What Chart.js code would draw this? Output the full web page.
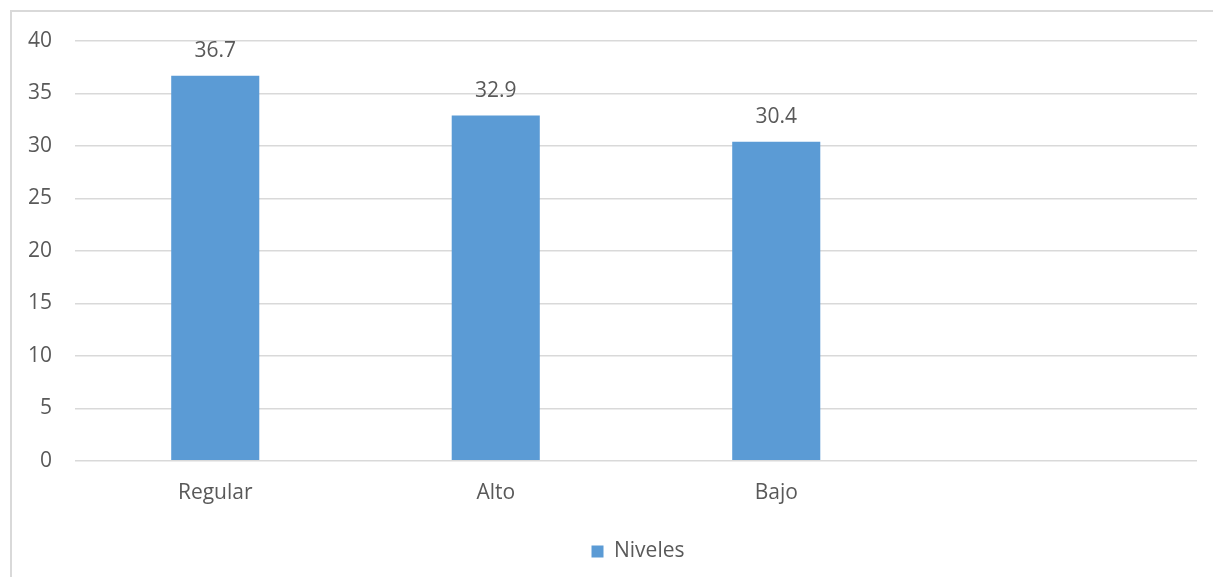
<!DOCTYPE html>
<html>
<head>
<meta charset="utf-8">
<script src="https://cdn.jsdelivr.net/npm/chart.js@4/dist/chart.umd.min.js"></script>
<style>
    html, body { margin: 0; padding: 0; background: #fff; overflow: hidden; }
    #frame {
        position: absolute;
        left: 10px;
        top: 10px;
        width: 1252px;
        height: 600px;
        border: 2px solid #d9d9d9;
    }
    #wrap { width: 1252px; height: 575px; }
</style>
</head>
<body>
<div id="frame"><div id="wrap"><canvas id="barChart"></canvas></div></div>
<script>
const categories = ['Regular', 'Alto', 'Bajo', ''];
const nivelesValues = [36.7, 32.9, 30.4, null];
const yTicks = [0, 5, 10, 15, 20, 25, 30, 35, 40];

const textColor = '#595959';
const fontFamily = '"Open Sans", sans-serif';
const fontSize = 21;

// values above the bars + legend centred on the whole frame
const valueLabels = {
    id: 'valueLabels',
    afterLayout(chart) {
        chart.legend.left = 0;
        chart.legend.right = chart.width;
        chart.legend.width = chart.width;
    },
    afterDatasetsDraw(chart) {
        const ctx = chart.ctx;
        ctx.save();
        ctx.fillStyle = textColor;
        ctx.font = fontSize + 'px ' + fontFamily;
        ctx.textAlign = 'center';
        ctx.textBaseline = 'alphabetic';
        chart.getDatasetMeta(0).data.forEach((bar, i) => {
            const v = nivelesValues[i];
            if (v === null) return;
            ctx.fillText(v.toFixed(1), bar.x, bar.y - 19);
        });
        ctx.restore();
    }
};

const ctx = document.getElementById('barChart').getContext('2d');
new Chart(ctx, {
    type: 'bar',
    data: {
        labels: categories,
        datasets: [{
            label: 'Niveles',
            data: nivelesValues,
            backgroundColor: '#5b9bd5',
            categoryPercentage: 1,
            barPercentage: 0.314
        }]
    },
    options: {
        responsive: true,
        maintainAspectRatio: false,
        animation: false,
        layout: { padding: { top: 29, right: 67, bottom: 15, left: 0 } },
        scales: {
            x: {
                grid: { display: false },
                border: { display: false },
                ticks: { color: textColor, padding: 12, font: { size: fontSize, family: fontFamily } }
            },
            y: {
                min: 0,
                max: 40,
                afterBuildTicks: scale => { scale.ticks = yTicks.map(v => ({ value: v })); },
                afterFit: scale => {
                    scale.width = 63;
                    scale.paddingTop = 0;
                    scale.paddingBottom = 0;
                },
                grid: { color: '#d9d9d9', lineWidth: 1.5, drawTicks: false },
                border: { display: false },
                ticks: { color: textColor, padding: 23, font: { size: fontSize, family: fontFamily } }
            }
        },
        plugins: {
            legend: {
                position: 'bottom',
                labels: {
                    boxWidth: 12,
                    boxHeight: 12,
                    color: textColor,
                    font: { size: fontSize, family: fontFamily },
                    padding: 23
                }
            },
            tooltip: { enabled: false }
        }
    },
    plugins: [valueLabels]
});
</script>
</body>
</html>
